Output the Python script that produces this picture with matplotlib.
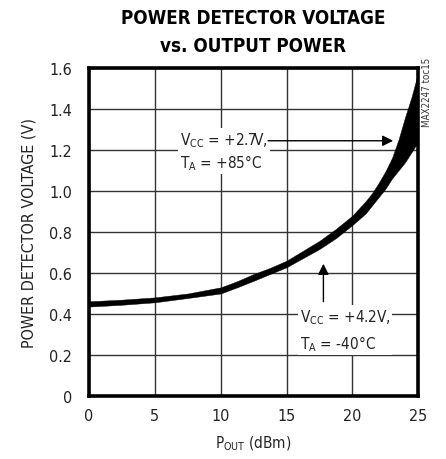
import matplotlib as mpl
import matplotlib.pyplot as plt
import numpy as np

# values
p_out = [0, 2.5, 5, 7.5, 10, 11.25, 12.5, 13.75, 15, 17.5, 18.75, 20, 21, 21.5,
         22, 22.5, 23, 23.5, 24, 24.5, 25]
v_upper = [0.462, 0.47, 0.481, 0.50, 0.53, 0.56, 0.595, 0.625, 0.66, 0.757, 0.815,
           0.88, 0.95, 0.99, 1.04, 1.095, 1.16, 1.25, 1.36, 1.46, 1.58]
v_lower = [0.436, 0.445, 0.457, 0.478, 0.50, 0.53, 0.562, 0.595, 0.628, 0.717, 0.77,
           0.834, 0.89, 0.93, 0.97, 1.01, 1.06, 1.10, 1.14, 1.19, 1.24]
x_ticks = [0, 5, 10, 15, 20, 25]
y_ticks = [0, 0.2, 0.4, 0.6, 0.8, 1.0, 1.2, 1.4, 1.6]
y_labels = ["0", "0.2", "0.4", "0.6", "0.8", "1.0", "1.2", "1.4", "1.6"]

mpl.rcParams["font.family"] = ["DejaVu Sans"]
mpl.rcParams["font.stretch"] = "condensed"
mpl.rcParams["mathtext.fontset"] = "custom"
mpl.rcParams["mathtext.rm"] = "DejaVu Sans:stretch=condensed"

fig = plt.figure(figsize=(4.46, 4.60), dpi=100)
ax = fig.add_axes([0.1996, 0.137, 0.7381, 0.713])

ax.fill_between(p_out, v_lower, v_upper, color="black", lw=0.3, zorder=4)

ax.set_xlim(0, 25)
ax.set_ylim(0, 1.6)
ax.set_xticks(x_ticks)
ax.set_yticks(y_ticks)
ax.set_yticklabels(y_labels)
ax.tick_params(length=0, labelsize=11.5, colors="#222222")
ax.tick_params(axis="x", pad=9)
ax.tick_params(axis="y", pad=12)
ax.grid(True, color="#333333", lw=1)
ax.set_axisbelow(True)
for s in ax.spines.values():
    s.set_linewidth(2.6)

ax.set_xlabel(r"P$_\mathregular{OUT}$ (dBm)", fontsize=11, color="#222222", labelpad=7)
ax.set_ylabel("POWER DETECTOR VOLTAGE (V)", fontsize=11.5, color="#222222", labelpad=9)

fig.text(0.567, 0.96, "POWER DETECTOR VOLTAGE", ha="center", va="center",
         fontsize=13.5, fontweight="bold")
fig.text(0.567, 0.90, "vs. OUTPUT POWER", ha="center", va="center",
         fontsize=13.5, fontweight="bold")
fig.text(0.958, 0.874, "MAX2247 toc15", rotation=90, ha="center", va="top",
         fontsize=7, color="#333333")

box = dict(facecolor="white", edgecolor="none", pad=1.5)
ax.text(6.9, 1.195, "V$_\\mathregular{CC}$ = +2.7V,\nT$_\\mathregular{A}$ = +85°C",
        fontsize=11, va="center", ha="left", color="#222222", bbox=box,
        linespacing=1.2, zorder=5)
ax.annotate("", xy=(23.1, 1.245), xytext=(13.6, 1.245),
            arrowprops=dict(arrowstyle="-|>", color="black", lw=1,
                            mutation_scale=16, shrinkA=0, shrinkB=0), zorder=5)

ax.text(16.0, 0.32, "V$_\\mathregular{CC}$ = +4.2V,\nT$_\\mathregular{A}$ = -40°C",
        fontsize=11, va="center", ha="left", color="#222222", bbox=box,
        linespacing=1.5, zorder=5)
ax.annotate("", xy=(17.8, 0.645), xytext=(17.8, 0.46),
            arrowprops=dict(arrowstyle="-|>", color="black", lw=1,
                            mutation_scale=16, shrinkA=0, shrinkB=0), zorder=5)

fig.savefig("out.png", dpi=100)
